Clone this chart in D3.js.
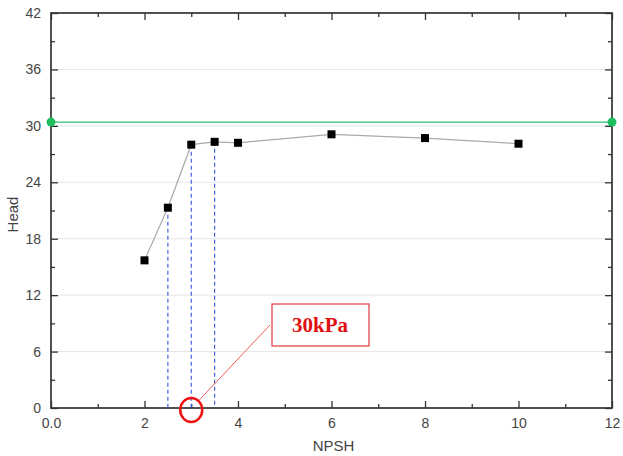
<!DOCTYPE html>
<html><head><meta charset="utf-8">
<script src="https://cdn.jsdelivr.net/npm/d3@7"></script>
<style>body{margin:0;background:#fff}</style>
</head><body><svg id="c" width="623" height="456" font-family="Liberation Sans, Arial, sans-serif"></svg>
<script>
const npsh = [2, 2.5, 3, 3.5, 4, 6, 8, 10];
const head = [15.7, 21.3, 28.0, 28.3, 28.2, 29.1, 28.7, 28.1];
const refHead = 30.4;
const dashedX = [2.5, 3, 3.5];
const xTicks = [0, 2, 4, 6, 8, 10, 12];
const xTickLabels = ["0.0", "2", "4", "6", "8", "10", "12"];
const yTicks = [0, 6, 12, 18, 24, 30, 36, 42];
const annotation = "30kPa";
const circleX = 3;

const svg = d3.select("#c");
const L = 51, R = 612, T = 13, B = 408;
const x = d3.scaleLinear().domain([0, 12]).range([L, R]);
const y = d3.scaleLinear().domain([0, 42]).range([B, T]);
const axisColor = "#333", textColor = "#444";

// grid
svg.append("g").selectAll("line").data(yTicks.filter(d => d > 0 && d < 42)).join("line")
  .attr("x1", L).attr("x2", R).attr("y1", d => y(d)).attr("y2", d => y(d))
  .attr("stroke", "#e6e6e6").attr("stroke-width", 1);

// axes
const minorX = d3.range(1, 12, 2), minorY = d3.range(3, 42, 6);
function tickStyle(g){ g.select(".domain").remove(); g.selectAll("line").attr("stroke", axisColor).attr("stroke-width", 1.3); g.selectAll("text").attr("fill", textColor).attr("font-size", 14).attr("font-family", "Liberation Sans, Arial, sans-serif"); }
svg.append("g").attr("transform", `translate(0,${B})`)
  .call(d3.axisBottom(x).tickValues(xTicks).tickSize(-7).tickPadding(10).tickFormat((d,i) => xTickLabels[i]))
  .call(tickStyle);
svg.append("g").attr("transform", `translate(0,${B})`)
  .call(d3.axisBottom(x).tickValues(minorX).tickSize(-4).tickFormat("")).call(tickStyle);
svg.append("g").attr("transform", `translate(${L},0)`)
  .call(d3.axisLeft(y).tickValues(yTicks).tickSize(-7).tickPadding(10))
  .call(tickStyle);
svg.append("g").attr("transform", `translate(${L},0)`)
  .call(d3.axisLeft(y).tickValues(minorY).tickSize(-4).tickFormat("")).call(tickStyle);
svg.append("g").attr("transform", `translate(0,${T})`)
  .call(d3.axisTop(x).tickValues(xTicks).tickSize(-7).tickFormat("")).call(tickStyle);
svg.append("g").attr("transform", `translate(0,${T})`)
  .call(d3.axisTop(x).tickValues(minorX).tickSize(-4).tickFormat("")).call(tickStyle);
svg.append("g").attr("transform", `translate(${R},0)`)
  .call(d3.axisRight(y).tickValues(yTicks).tickSize(-7).tickFormat("")).call(tickStyle);
svg.append("g").attr("transform", `translate(${R},0)`)
  .call(d3.axisRight(y).tickValues(minorY).tickSize(-4).tickFormat("")).call(tickStyle);
svg.append("rect").attr("x", L).attr("y", T).attr("width", R - L).attr("height", B - T)
  .attr("fill", "none").attr("stroke", axisColor).attr("stroke-width", 1.7);

// axis titles
svg.append("text").attr("x", (L + R) / 2 + 2).attr("y", 451).attr("text-anchor", "middle")
  .attr("fill", textColor).attr("font-size", 15).text("NPSH");
svg.append("text").attr("transform", `translate(18,${(T + B) / 2 + 4}) rotate(-90)`).attr("text-anchor", "middle")
  .attr("fill", textColor).attr("font-size", 15).text("Head");

// reference line
svg.append("line").attr("x1", x(0)).attr("x2", x(12)).attr("y1", y(refHead)).attr("y2", y(refHead))
  .attr("stroke", "#2fbf6b").attr("stroke-width", 1.3);
svg.append("g").selectAll("circle").data([0, 12]).join("circle")
  .attr("cx", d => x(d)).attr("cy", y(refHead)).attr("r", 4.5).attr("fill", "#1fbf5f");

// dashed lines
const idx = dashedX.map(v => npsh.indexOf(v));
svg.append("g").selectAll("line").data(idx).join("line")
  .attr("x1", i => x(npsh[i])).attr("x2", i => x(npsh[i]))
  .attr("y1", i => y(head[i])).attr("y2", y(0))
  .attr("stroke", "#3355dd").attr("stroke-width", 1.1).attr("stroke-dasharray", "4,3");

// data line
const data = npsh.map((v, i) => [v, head[i]]);
svg.append("path").datum(data).attr("fill", "none").attr("stroke", "#aaa").attr("stroke-width", 1.2)
  .attr("d", d3.line().x(d => x(d[0])).y(d => y(d[1])));
svg.append("g").selectAll("rect").data(data).join("rect")
  .attr("x", d => x(d[0]) - 4).attr("y", d => y(d[1]) - 4).attr("width", 8).attr("height", 8).attr("fill", "#000");

// annotation
const cx = x(circleX), cy = y(0);
svg.append("line").attr("x1", cx + 8).attr("y1", cy - 8).attr("x2", 270).attr("y2", 325)
  .attr("stroke", "#f05a5a").attr("stroke-width", 1);
svg.append("ellipse").attr("cx", cx).attr("cy", cy + 2).attr("rx", 11).attr("ry", 12)
  .attr("fill", "none").attr("stroke", "#ee1111").attr("stroke-width", 2.5);
svg.append("rect").attr("x", 272).attr("y", 304).attr("width", 97).attr("height", 42)
  .attr("fill", "#fff").attr("stroke", "#e23a3a").attr("stroke-width", 1.2);
svg.append("text").attr("x", 320).attr("y", 332).attr("text-anchor", "middle")
  .attr("font-family", "Liberation Serif, Times New Roman, serif").attr("font-weight", "bold")
  .attr("font-size", 21).attr("fill", "#e01010").text(annotation);
</script></body></html>
